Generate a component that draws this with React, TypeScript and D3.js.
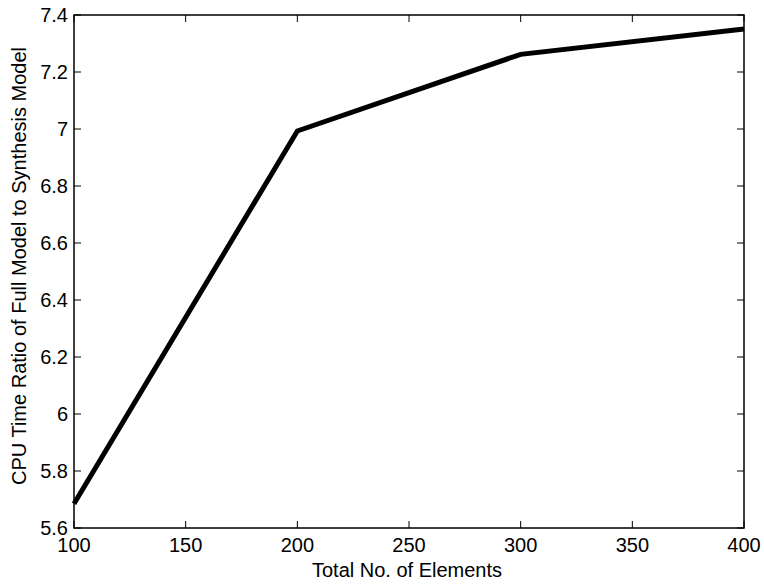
import React from "react";
import * as d3 from "d3";

const elements = [100, 200, 300, 400];
const ratios = [5.685, 6.993, 7.262, 7.351];
const xTicks = [100, 150, 200, 250, 300, 350, 400];
const yTicks = [5.6, 5.8, 6, 6.2, 6.4, 6.6, 6.8, 7, 7.2, 7.4];
const xTitle = "Total No. of Elements";
const yTitle = "CPU Time Ratio of Full Model to Synthesis Model";

export default function App() {
  const W = 764, H = 586;
  const L = 74, R = 744, T = 15, B = 528;
  const x = d3.scaleLinear().domain([100, 400]).range([L, R]);
  const y = d3.scaleLinear().domain([5.6, 7.4]).range([B, T]);
  const line = d3.line<number>().x((_, i) => x(elements[i])).y((d) => y(d));
  const font = "Arial, 'Liberation Sans', sans-serif";
  const tl = 7;
  const fs = 20;
  return (
    <svg width={W} height={H} style={{ position: "absolute", left: 0, top: 0 }} fontFamily={font}>
      <rect width={W} height={H} fill="#fff" />
      {xTicks.map((t) => (
        <g key={"x" + t}>
          <line x1={x(t)} x2={x(t)} y1={B} y2={B - tl} stroke="#000" strokeWidth={1} />
          <line x1={x(t)} x2={x(t)} y1={T} y2={T + tl} stroke="#000" strokeWidth={1} />
          <text x={x(t)} y={552} fontSize={fs} textAnchor="middle">{t}</text>
        </g>
      ))}
      {yTicks.map((t) => (
        <g key={"y" + t}>
          <line x1={L} x2={L + tl} y1={y(t)} y2={y(t)} stroke="#000" strokeWidth={1} />
          <line x1={R} x2={R - tl} y1={y(t)} y2={y(t)} stroke="#000" strokeWidth={1} />
          <text x={L - 6} y={y(t) + 7} fontSize={fs} textAnchor="end">{String(t)}</text>
        </g>
      ))}
      <rect x={L} y={T} width={R - L} height={B - T} fill="none" stroke="#000" strokeWidth={1.5} />
      <path d={line(ratios) || ""} fill="none" stroke="#000" strokeWidth={5} strokeLinejoin="miter" />
      <text x={(L + R) / 2 - 2} y={577} fontSize={fs} textAnchor="middle">{xTitle}</text>
      <text transform={`translate(26,266) rotate(-90)`} fontSize={fs} textAnchor="middle">{yTitle}</text>
    </svg>
  );
}
